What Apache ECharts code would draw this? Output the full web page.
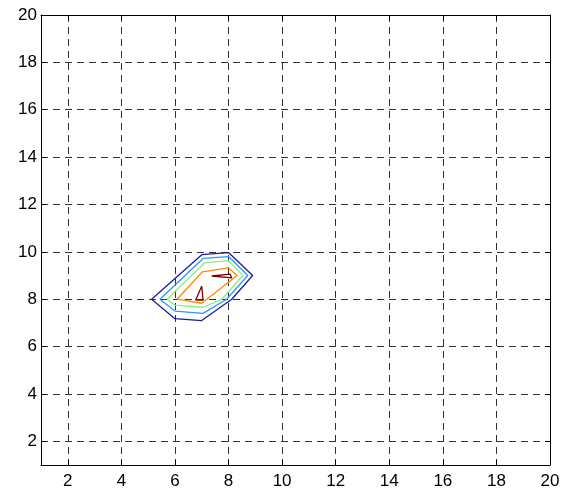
<!DOCTYPE html>
<html><head><meta charset="utf-8">
<script src="https://cdn.jsdelivr.net/npm/echarts@6/dist/echarts.min.js"></script>
<style>html,body{margin:0;padding:0;background:#fff}#c{width:566px;height:494px}</style>
</head><body><div id="c"></div>
<script>
const xTicks = [2,4,6,8,10,12,14,16,18,20];
const yTicks = [2,4,6,8,10,12,14,16,18,20];
const contourLevel1 = [[5.13,8],[6,7.18],[7,7.1],[8.12,8],[8.9,9],[8,9.97],[7,9.88],[5.13,8]];
const contourLevel2 = [[5.44,8],[6,7.5],[7.05,7.4],[7.93,8],[8.72,9],[8,9.8],[7.05,9.72],[5.44,8]];
const contourLevel3 = [[5.7,8],[6,7.75],[7.05,7.66],[7.75,8],[8.53,9],[8,9.63],[7.1,9.53],[5.7,8]];
const contourLevel4 = [[6.08,8],[7,7.83],[8.32,9],[8,9.32],[7.02,9.15],[6.08,8]];
const contourLevel5a = [[6.77,7.96],[7.05,7.96],[7,8.55],[6.77,7.96]];
const contourLevel5b = [[7.37,8.98],[8.06,9.06],[8.12,8.9],[7.37,8.98]];

const colors = ['#1c1c9c','#2a98ff','#8cef7c','#ff8a00','#800000'];
const contours = [contourLevel1,contourLevel2,contourLevel3,contourLevel4,contourLevel5a,contourLevel5b];
const colorIdx = [0,1,2,3,4,4];

const font = {fontFamily:'Liberation Sans, Arial, sans-serif', fontSize:17, color:'#000'};
function axisCommon(pos, ticks, showLabel, showSplit, margin){
  return {
    type:'value', min:1, max:20, position:pos,
    axisLine:{show:true, onZero:false, lineStyle:{color:'#000', width:1}},
    axisTick:{show:true, inside:true, length:5, customValues:ticks, lineStyle:{color:'#000'}},
    axisLabel:{show:showLabel, customValues:ticks, margin:margin, ...font},
    splitLine:{show:showSplit, lineStyle:{color:'#333', type:[7,5], width:1}},
  };
}
const chart = echarts.init(document.getElementById('c'), null, {renderer:'canvas'});
chart.setOption({
  animation:false,
  grid:{left:41, top:15, right:16, bottom:29, containLabel:false},
  xAxis:[axisCommon('bottom', xTicks, true, true, 8), axisCommon('top', xTicks, false, false, 0)],
  yAxis:[axisCommon('left', yTicks, true, true, 4), axisCommon('right', yTicks, false, false, 0)],
  series: contours.map((d,i)=>({
    type:'line', data:d, xAxisIndex:0, yAxisIndex:0, showSymbol:false, symbol:'none',
    lineStyle:{color:colors[colorIdx[i]], width:1.3}, silent:true
  }))
});
</script></body></html>
